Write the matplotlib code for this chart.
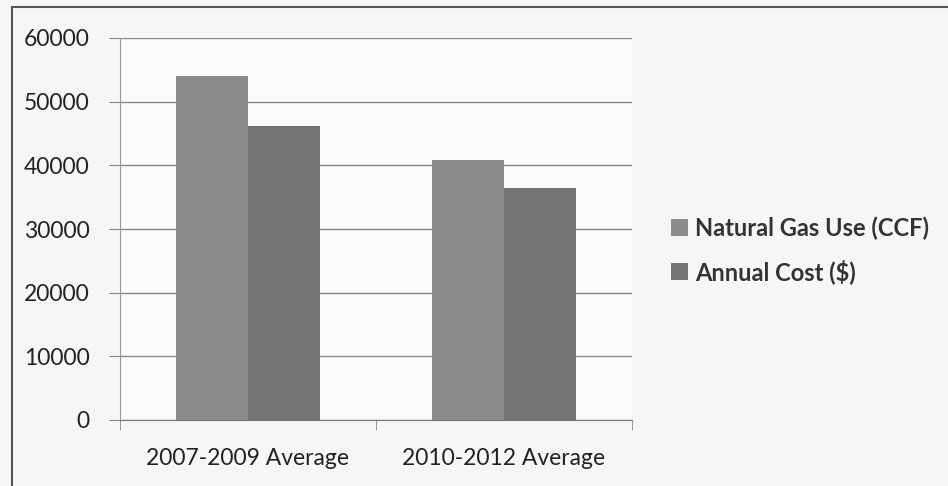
import numpy as np
import matplotlib.pyplot as plt
from matplotlib.patches import Rectangle

# data
categories = ["2007-2009 Average", "2010-2012 Average"]
gas_use = [54100, 40800]
annual_cost = [46200, 36500]
series_names = ["Natural Gas Use (CCF)", "Annual Cost ($)"]

plt.rcParams['font.family'] = ['Lato', 'DejaVu Sans']

fig = plt.figure(figsize=(9.48, 4.86), dpi=100)
fig.patch.set_facecolor("#f6f6f6")

# outer chart border
fig.patches.append(Rectangle((12 / 948, -0.01), 1.0, 1 - 7 / 486 + 0.01,
                             transform=fig.transFigure, fill=False,
                             edgecolor="#555555", linewidth=1.5))

ax = fig.add_axes([120 / 948, 1 - 420 / 486, 512 / 948, 382 / 486])
ax.set_facecolor("#fbfbfb")

x = np.arange(len(categories))
w = 0.2825
ax.bar(x - w / 2, gas_use, w, color="#8c8c8c", label=series_names[0], zorder=3)
ax.bar(x + w / 2, annual_cost, w, color="#737373", label=series_names[1], zorder=3)

ax.set_xlim(-0.5, 1.5)
ax.set_ylim(0, 60000)
ax.set_yticks(range(0, 60001, 10000))
ax.grid(axis="y", color="#8a8a8a", linewidth=1.0, zorder=0)

ax.set_xticks(x)
ax.set_xticklabels(categories, fontsize=16.5, color="#222222")
ax.tick_params(axis="x", length=0, pad=20)
ax.set_xticks([-0.5, 0.5, 1.5], minor=True)
ax.tick_params(axis="x", which="minor", length=7, color="#888888", direction="out")
ax.tick_params(axis="y", labelsize=16.5, labelcolor="#222222", length=8,
               color="#888888", pad=14)

for s in ["top", "right"]:
    ax.spines[s].set_visible(False)
ax.spines["left"].set_color("#999999")
ax.spines["bottom"].set_color("#777777")

leg = fig.legend(loc="center left", bbox_to_anchor=(650 / 948, 1 - 250 / 486),
                 frameon=False, fontsize=17, handlelength=0.7,
                 handleheight=0.7, handletextpad=0.3, labelspacing=0.8)
for t in leg.get_texts():
    t.set_fontweight("bold")
    t.set_color("#333333")

fig.savefig("out.png", dpi=100, facecolor=fig.get_facecolor())
